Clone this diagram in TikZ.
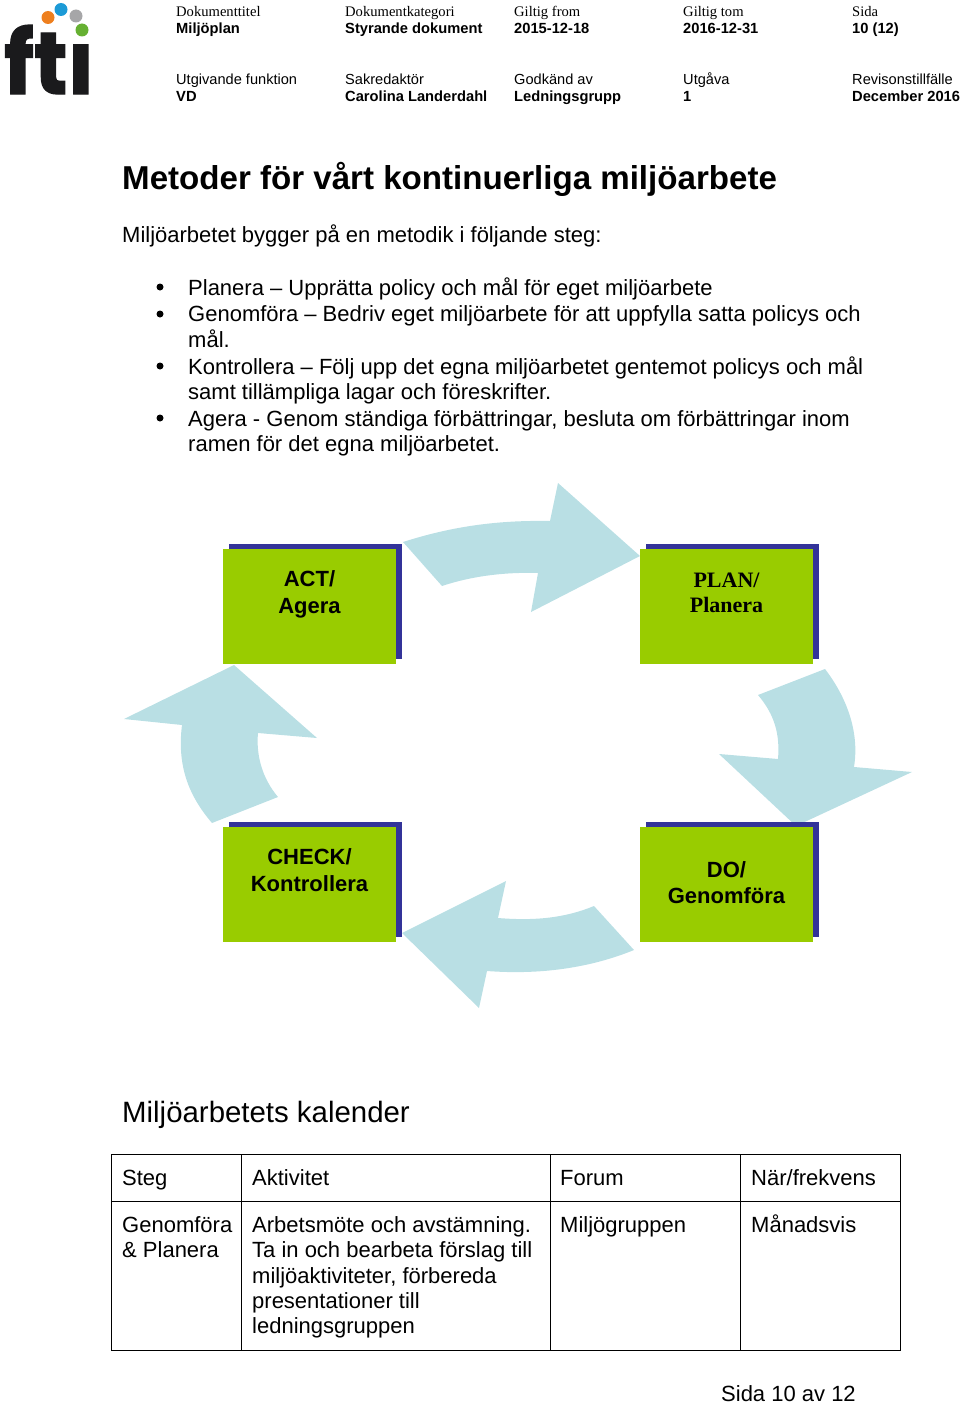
\documentclass[tikz,border=0pt]{standalone}
\usepackage{fontspec}
\setmainfont{Liberation Sans}
\newfontfamily\serifhead{Liberation Serif}
\newfontfamily\logofont{Poppins}[BoldFeatures={FakeBold=1.5}]
\usepackage{xcolor}
\usetikzlibrary{positioning,calc}
\definecolor{boxgreen}{HTML}{99CC00}
\definecolor{boxnavy}{HTML}{333399}
\definecolor{arrowblue}{HTML}{B9DFE4}
\definecolor{logoink}{HTML}{1A1A1C}
\definecolor{logoorange}{HTML}{EE7F1E}
\definecolor{logoblue}{HTML}{1C9AD6}
\definecolor{logogray}{HTML}{A6A6A8}
\definecolor{logogreen}{HTML}{66B032}
\newcommand{\fsz}[1]{\fontsize{#1}{#1}\selectfont}
\tikzset{
  txt/.style={anchor=base west, inner sep=0pt, font=\fsz{22}},
  headlabel/.style={anchor=base west, inner sep=0pt, font=\serifhead\fsz{14.6}},
  headsans/.style={anchor=base west, inner sep=0pt, font=\fsz{14.6}},
  headbold/.style={anchor=base west, inner sep=0pt, font=\bfseries\fsz{14.7}},
  greenbox/.style={fill=boxgreen, minimum width=173.5, minimum height=115, inner sep=0pt},
  navybox/.style={fill=boxnavy, minimum width=173.5, minimum height=115, inner sep=0pt},
  boxtext/.style={inner sep=0pt, align=center, font=\bfseries\fontsize{22}{26.5}\selectfont},
  flowarrow/.style={fill=arrowblue},
  tableline/.style={draw=black, line width=0.9}
}
\begin{document}
\begin{tikzpicture}[x=1pt, y=-1pt]
\useasboundingbox (0,0) rectangle (960,1405);
% logo
\node[inner sep=0pt, anchor=base west, text=logoink, font=\logofont\bfseries\fontsize{88}{88}\selectfont] (logo) at (4,94) {\scalebox{0.94}[1]{ftı}};
\fill[logoorange] (48,17.5) circle (6.5);
\fill[logoblue] (61,9.5) circle (6.5);
\fill[logogray] (76,16) circle (6.5);
\fill[logogreen] (82,30) circle (6.5);
% page header, two rows of five columns
\foreach \hname/\x/\top/\bot in {a/176/Dokumenttitel/Miljöplan, b/345/Dokumentkategori/Styrande dokument, c/514/Giltig from/2015-12-18, d/683/Giltig tom/2016-12-31, e/852/Sida/10 (12)}{
  \node[headlabel] (top\hname) at (\x,16.5) {\top};
  \node[headbold] (val\hname) at (\x,33.5) {\bot};
}
\foreach \hname/\x/\top/\bot in {a/176/Utgivande funktion/VD, b/345/Sakredaktör/Carolina Landerdahl, c/514/Godkänd av/Ledningsgrupp, d/683/Utgåva/1, e/852/Revisonstillfälle/December 2016}{
  \node[headsans] (rowtop\hname) at (\x,84.5) {\top};
  \node[headbold] (rowval\hname) at (\x,101) {\bot};
}
% title and intro
\node[txt, font=\bfseries\fsz{33.1}] (title) at (122,189) {Metoder för vårt kontinuerliga miljöarbete};
\node[txt] (intro) at (122,242.5) {Miljöarbetet bygger på en metodik i följande steg:};
% bullet list
\foreach \ln/\y/\words in {1/295/{Planera – Upprätta policy och mål för eget miljöarbete},
  2/321/{Genomföra – Bedriv eget miljöarbete för att uppfylla satta policys och},
  3/347/{mål.},
  4/374/{Kontrollera – Följ upp det egna miljöarbetet gentemot policys och mål},
  5/399/{samt tillämpliga lagar och föreskrifter.},
  6/426/{Agera - Genom ständiga förbättringar, besluta om förbättringar inom},
  7/451.5/{ramen för det egna miljöarbetet.}}{
  \node[txt] (line\ln) at (188,\y) {\words};
}
\foreach \y in {287,314,366,418}{
  \fill (160,\y) circle (3.5);
}
% curved arrows, clockwise from the top
\fill[flowarrow] (403,542) .. controls (450,527) and (495,520) .. (550,521) -- (558,483) -- (640,556) -- (531,612) -- (538,573)
  .. controls (505,572) and (472,576) .. (442,586) -- cycle;
\fill[flowarrow] (825,669) .. controls (845,695) and (860,730) .. (854,767) -- (912,772) -- (796,826) -- (719,754) -- (778,759)
  .. controls (780,735) and (775,715) .. (758,695) -- cycle;
\fill[flowarrow] (634,950) .. controls (590,968) and (540,975) .. (487,971) -- (479,1008) -- (402,933) -- (506,881) -- (498,918)
  .. controls (535,921) and (565,918) .. (594,906) -- cycle;
\fill[flowarrow] (212,823) .. controls (188,795) and (177,765) .. (182,725) -- (124,719) -- (234,665) -- (317,738) -- (258,733)
  .. controls (256,755) and (262,778) .. (278,797) -- cycle;
% green boxes with navy shadow
\foreach \bname/\x/\y/\ty/\words in {act/309.5/606.5/594.5/{ACT/\\Agera}, check/309.5/884.5/870/{CHECK/\\Kontrollera}, do/726.5/884.5/882.5/{DO/\\Genomföra}}{
  \node[navybox] (\bname shadow) at (\x+6,\y-5) {};
  \node[greenbox] (\bname) at (\x,\y) {};
  \node[boxtext] (\bname text) at (\x,\ty) {\words};
}
\node[navybox] (planshadow) at (732.5,601.5) {};
\node[greenbox] (plan) at (726.5,606.5) {};
\node[boxtext, font=\serifhead\bfseries\fontsize{22}{25.5}\selectfont] (plantext) at (726.5,593) {PLAN/\\Planera};
% calendar
\node[txt, font=\fsz{29.4}] (calendar) at (122,1122) {Miljöarbetets kalender};
\draw[tableline] (111.5,1154) rectangle (900,1350);
\draw[tableline] (111.5,1201) -- (900,1201);
\foreach \x in {241.5,550,740.5}{
  \draw[tableline] (\x,1154) -- (\x,1350);
}
\foreach \cname/\x/\words in {steg/122/Steg, akt/252/Aktivitet, forum/560/Forum, nar/751/{När/frekvens}}{
  \node[txt] (\cname) at (\x,1185.5) {\words};
}
\foreach \ln/\y/\words in {1/1232.5/{Arbetsmöte och avstämning.}, 2/1257.5/{Ta in och bearbeta förslag till}, 3/1283.5/{miljöaktiviteter, förbereda}, 4/1308.5/{presentationer till}, 5/1333.5/{ledningsgruppen}}{
  \node[txt] (cell\ln) at (252,\y) {\words};
}
\node[txt] (stega) at (122,1232.5) {Genomföra};
\node[txt] (stegb) at (122,1257.5) {\& Planera};
\node[txt] (forumcell) at (560,1232.5) {Miljögruppen};
\node[txt] (narcell) at (751,1232.5) {Månadsvis};
\node[txt] (footer) at (721,1401.5) {Sida 10 av 12};
\end{tikzpicture}
\end{document}
